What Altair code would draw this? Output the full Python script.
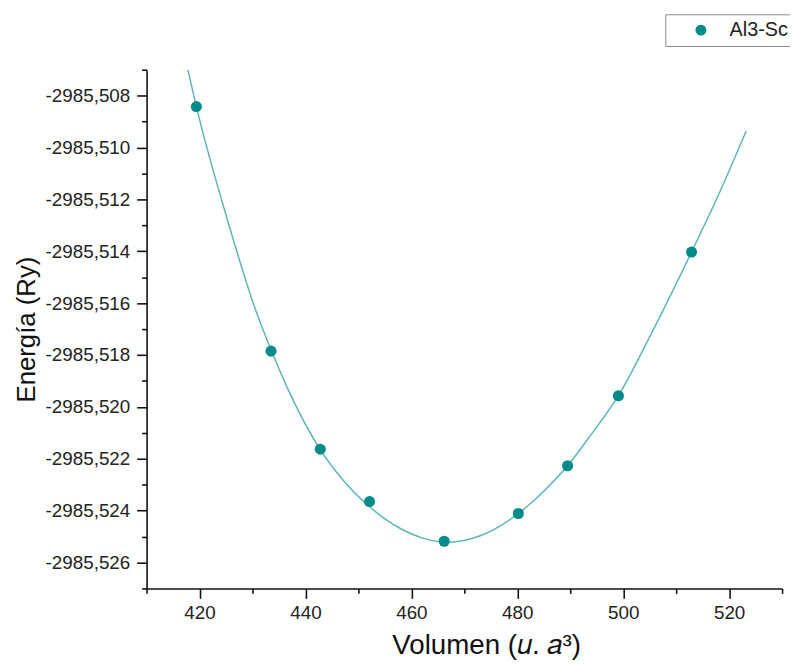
import altair as alt
import pandas as pd

# measured points
vol = [419.4, 433.5, 442.8, 452.1, 466.2, 480.2, 489.5, 499.1, 512.9]
energy = [-2985.50842, -2985.51785, -2985.52163, -2985.52365, -2985.52518,
          -2985.52411, -2985.52227, -2985.51957, -2985.51403]

# fitted curve
fit_vol = [417.8, 419.4, 425, 431, 433.5, 437, 442.8, 447, 452.1, 458, 462, 467,
           473, 480.2, 485, 489.5, 494, 499.1, 505, 512.9, 518, 523.2]
fit_energy = [-2985.50700, -2985.50842, -2985.51260, -2985.51650, -2985.51780,
              -2985.51945, -2985.52165, -2985.52280, -2985.52385, -2985.52470,
              -2985.52505, -2985.52522, -2985.52497, -2985.52411, -2985.52325,
              -2985.52227, -2985.52105, -2985.51957, -2985.51730, -2985.51403,
              -2985.51182, -2985.50937]

series = ["Al3-Sc"] * len(vol)

x_major = [420, 440, 460, 480, 500, 520]
x_minor = [410, 430, 450, 470, 490, 510, 530]
y_major = [-2985.508, -2985.510, -2985.512, -2985.514, -2985.516, -2985.518,
           -2985.520, -2985.522, -2985.524, -2985.526]
y_minor = [-2985.507, -2985.509, -2985.511, -2985.513, -2985.515, -2985.517,
           -2985.519, -2985.521, -2985.523, -2985.525, -2985.527]

pts = pd.DataFrame({"vol": vol, "energy": energy, "serie": series})
fit = pd.DataFrame({"vol": fit_vol, "energy": fit_energy})

FONT = "Liberation Sans"

xscale = alt.Scale(domain=[410, 530], nice=False, zero=False)
yscale = alt.Scale(domain=[-2985.527, -2985.507], nice=False, zero=False)

x_axis = alt.Axis(
    values=x_major,
    format="d",
    title="Volumen (𝑢. 𝑎³)",
    orient="bottom",
    grid=False,
    tickSize=10,
    labelPadding=5,
    labelFontSize=19,
    titleFontSize=28,
    titleFontWeight="normal",
    titlePadding=10,
    titleX=343,
)
y_axis = alt.Axis(
    values=y_major,
    format=".3f",
    labelExpr="replace(replace(datum.label, '.', ','), '\u2212', '-')",
    title="Energía (Ry)",
    orient="left",
    grid=False,
    tickSize=10,
    labelPadding=7,
    labelFontSize=19,
    titleFontSize=26,
    titleFontWeight="normal",
    titlePadding=6,
)
x_axis_minor = alt.Axis(
    values=x_minor, orient="bottom", grid=False, tickSize=5,
    labels=False, domain=False, title=None,
)
y_axis_minor = alt.Axis(
    values=y_minor, orient="left", grid=False, tickSize=5,
    labels=False, domain=False, title=None,
)

minor = alt.Chart(fit).mark_line(opacity=0).encode(
    x=alt.X("vol:Q", scale=xscale, axis=x_axis_minor),
    y=alt.Y("energy:Q", scale=yscale, axis=y_axis_minor),
)

line = alt.Chart(fit).mark_line(
    color="#5DB5B5", strokeWidth=1.5, interpolate="monotone", clip=True
).encode(
    x=alt.X("vol:Q", scale=xscale, axis=x_axis),
    y=alt.Y("energy:Q", scale=yscale, axis=y_axis),
)

points = alt.Chart(pts).mark_circle(size=125, opacity=1).encode(
    x=alt.X("vol:Q", scale=xscale, axis=x_axis),
    y=alt.Y("energy:Q", scale=yscale, axis=y_axis),
    color=alt.Color(
        "serie:N",
        scale=alt.Scale(domain=["Al3-Sc"], range=["#008B8B"]),
        legend=alt.Legend(
            title=None,
            orient="none",
            legendX=524,
            legendY=-56,
            strokeColor="#8a8a8a",
            fillColor="white",
            padding=6,
            symbolType="circle",
            symbolSize=120,
            symbolOffset=20,
            labelOffset=19,
            labelFontSize=20,
            labelFont=FONT,
            labelColor="#222",
            labelLimit=200,
        ),
    ),
)

main = alt.layer(line, points)

chart = (
    alt.layer(minor, main)
    .resolve_axis(x="independent", y="independent")
    .properties(
        width=642,
        height=524,
        autosize=alt.AutoSizeParams(type="none"),
        padding={"left": 140, "top": 59, "right": 8, "bottom": 75},
    )
    .configure_view(stroke=None)
    .configure_axis(
        domainColor="#111",
        domainWidth=1.6,
        tickColor="#111",
        tickWidth=1.6,
        labelColor="#222",
        titleColor="#111",
        labelFont=FONT,
        titleFont=FONT,
        labelOverlap=False,
        labelFlush=False,
        labelBound=False,
    )
)

chart.save("out.html", embed_options={"renderer": "svg", "actions": False})
